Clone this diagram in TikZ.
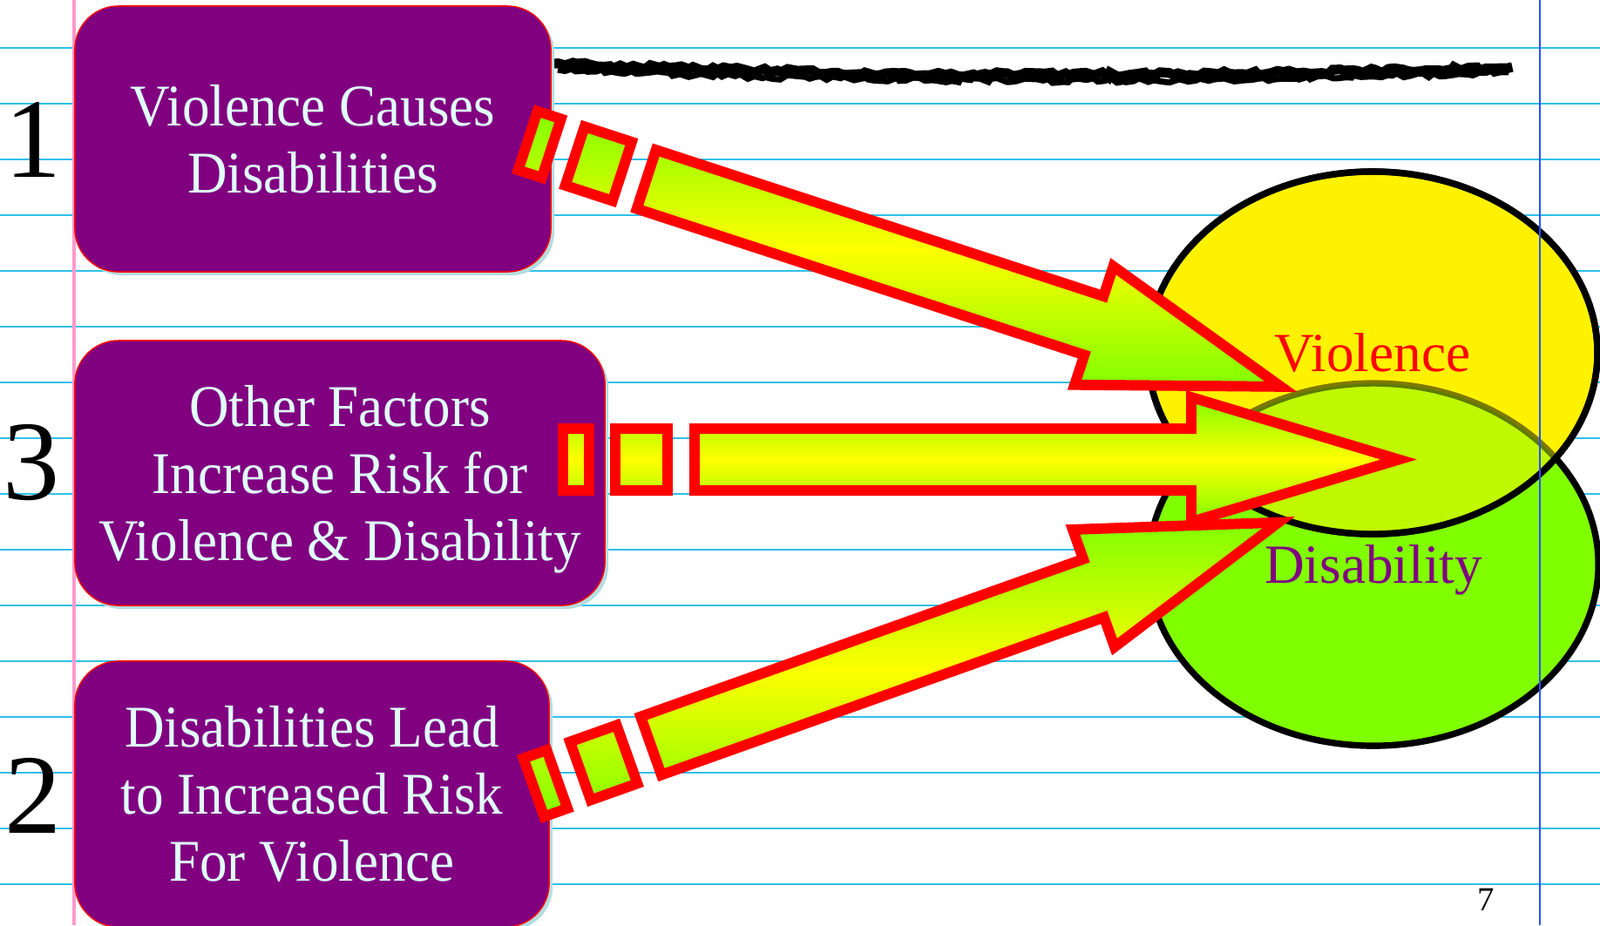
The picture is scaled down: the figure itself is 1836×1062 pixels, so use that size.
\documentclass[tikz,border=0pt]{standalone}
\usepackage{fontspec}
\setmainfont{Liberation Serif}
\newfontfamily\boxfont[FakeStretch=0.93]{Liberation Serif}
\usetikzlibrary{shapes.geometric,shadows,decorations.pathmorphing}
\definecolor{boxpurple}{HTML}{800080}
\definecolor{boxtext}{HTML}{E0FFFA}
\definecolor{boxshadow}{HTML}{B5DDE0}
\definecolor{chartgreen}{HTML}{80FF00}
\definecolor{ruleblue}{HTML}{30C0E8}
\definecolor{marginpink}{HTML}{FF99CC}
\definecolor{marginblue}{HTML}{2850FF}
\tikzset{
  topicbox/.style={rectangle, rounded corners=0.5cm, fill=boxpurple, draw=red, line width=0.4pt,
    text=boxtext, align=center, inner sep=0pt, font=\boxfont\fontsize{19.3}{21.9}\selectfont,
    drop shadow={shadow xshift=0.04cm, shadow yshift=-0.04cm, fill=boxshadow, opacity=1}},
  numlabel/.style={font=\fontsize{37}{40}\selectfont, inner sep=0pt},
  vennset/.style={ellipse, draw=black, line width=2.1pt, minimum width=5.16cm, minimum height=4.16cm,
    inner sep=0pt, font=\fontsize{18}{20}\selectfont, text height=12pt, text depth=0pt},
  arrowbody/.style={draw=red, line width=3.4pt, line join=miter,
    top color=chartgreen, bottom color=chartgreen, middle color=yellow},
  ruled/.style={ruleblue, line width=0.6pt},
  brush/.style={line width=3.2pt, decorate, decoration={random steps, segment length=2pt, amplitude=0.8pt}}
}
\newcommand{\stripedarrow}[3]{%
  \begin{scope}[shift={(#1)}, x={({#2}:{#3*0.01cm})}, y={({#2+90}:0.01cm)}]
    \path[arrowbody] (0,-35.5) -- (30,-35.5) -- (30,35.5) -- (0,35.5) -- cycle
      (60,-35.5) -- (120,-35.5) -- (120,35.5) -- (60,35.5) -- cycle
      (151,-35.5) -- (721,-35.5) -- (721,-71.5) -- (959,0)
        -- (721,71.5) -- (721,35.5) -- (151,35.5) -- cycle;
  \end{scope}}

\begin{document}
\begin{tikzpicture}[x=0.01cm, y=-0.01cm]
  \useasboundingbox (0,0) rectangle (1836,1062);
  \fill[white] (0,0) rectangle (1836,1062);
  \foreach \y in {55,119,...,1015}
    \draw[ruled] (0,\y) -- (1836,\y);
  \draw[marginpink, line width=0.9pt] (85,0) -- (85,1062);

  \node[vennset, fill=chartgreen, text=boxpurple] (disability) at (1576,648) {Disability};
  \node[vennset, fill=yellow, text=red] (violence) at (1575,405) {Violence};
  \begin{scope}
    \clip (violence.center) ellipse [x radius=258, y radius=208];
    \path[fill=chartgreen, fill opacity=0.5, draw=black, draw opacity=0.5, line width=2.1pt]
      (disability.center) ellipse [x radius=258, y radius=208];
  \end{scope}
  \draw[line width=2.1pt] (violence.center) ellipse [x radius=258, y radius=208];
  \draw[marginblue, line width=0.6pt] (1767,0) -- (1767,1062);

  \draw[brush] (636,73) .. controls (900,84) and (1250,93) .. (1734,77);
  \draw[brush, line width=2pt] (640,80) .. controls (900,91) and (1250,100) .. (1730,83);

  \node[topicbox, minimum width=5.46cm, minimum height=3.05cm] (causes) at (359,159.5)
    {Violence Causes\\Disabilities};
  \node[topicbox, minimum width=6.08cm, minimum height=3.04cm] (factors) at (390,543)
    {Other Factors\\Increase Risk for\\\smash{Violence \& Disability}};
  \node[topicbox, minimum width=5.44cm, minimum height=3.05cm] (leads) at (358,911.5)
    {Disabilities Lead\\to Increased Risk\\For Violence};

  \node[numlabel] (num1) at (38,161) {1};
  \node[numlabel] (num3) at (36,531) {3};
  \node[numlabel] (num2) at (38,913) {2};

  \coordinate (topstart) at (605.7,161.4);
  \coordinate (midstart) at (646,527.5);
  \coordinate (lowstart) at (612.5,904);
  \stripedarrow{topstart}{-18.1}{0.948}
  \stripedarrow{lowstart}{19.6}{0.946}
  \stripedarrow{midstart}{0}{1}

  \node[font=\fontsize{11}{13}\selectfont, inner sep=0pt] (pagenum) at (1705,1033) {7};
\end{tikzpicture}
\end{document}
